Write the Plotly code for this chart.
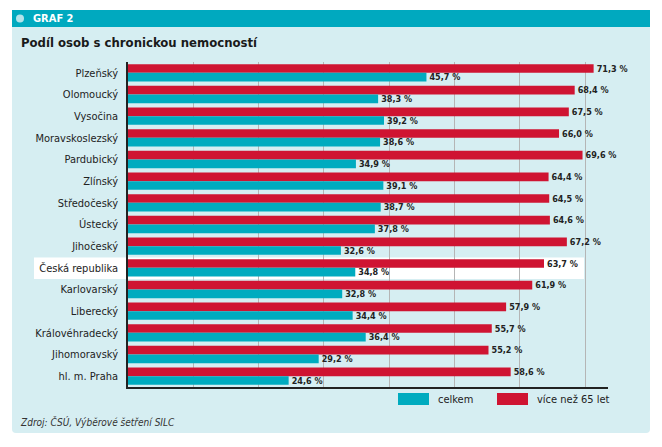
import plotly.graph_objects as go

categories = ["Plzeňský", "Olomoucký", "Vysočina", "Moravskoslezský", "Pardubický",
              "Zlínský", "Středočeský", "Ústecký", "Jihočeský", "Česká republika",
              "Karlovarský", "Liberecký", "Královéhradecký", "Jihomoravský", "hl. m. Praha"]
over65 = [71.3, 68.4, 67.5, 66.0, 69.6, 64.4, 64.5, 64.6, 67.2, 63.7, 61.9, 57.9, 55.7, 55.2, 58.6]
total = [45.7, 38.3, 39.2, 38.6, 34.9, 39.1, 38.7, 37.8, 32.6, 34.8, 32.8, 34.4, 36.4, 29.2, 24.6]
series_names = ["celkem", "více než 65 let"]
grid_vals = [10, 20, 30, 40, 50, 60, 70]

RED = "#cf1432"
TEAL = "#00abbf"
PANEL = "#d6eef2"
FONT = "DejaVu Sans Condensed"

W, H = 662, 447
OFF = 8  # page body margin offset
ML = 128 - OFF
MT = 62 - OFF
MR = W - (608 - OFF)
MB = H - (387 - OFF)
PW = W - ML - MR
PH = H - MT - MB


def xp(px):
    return (px - OFF - ML) / PW


def yp(py):
    return (H - MB - (py - OFF)) / PH


def fmt(v):
    return f"{v:.1f} %".replace(".", ",")


def rounded_panel(x0, y0, x1, y1, r):
    pts = [
        f"M {xp(x0)},{yp(y0)}",
        f"L {xp(x1)},{yp(y0)}",
        f"L {xp(x1)},{yp(y1 - r)}",
        f"Q {xp(x1)},{yp(y1)} {xp(x1 - r)},{yp(y1)}",
        f"L {xp(x0 + r)},{yp(y1)}",
        f"Q {xp(x0)},{yp(y1)} {xp(x0)},{yp(y1 - r)}",
        "Z",
    ]
    return " ".join(pts)


fig = go.Figure()
fig.add_trace(go.Bar(
    y=categories, x=over65, orientation="h", name=series_names[1],
    marker=dict(color=RED, line=dict(width=0)),
    text=[fmt(v) for v in over65], textposition="outside", constraintext="none",
    textfont=dict(family=FONT, size=9, color="#222222", weight="bold"),
    cliponaxis=False, showlegend=False, hoverinfo="x+y",
))
fig.add_trace(go.Bar(
    y=categories, x=total, orientation="h", name=series_names[0],
    marker=dict(color=TEAL, line=dict(width=0)),
    text=[fmt(v) for v in total], textposition="outside", constraintext="none",
    textfont=dict(family=FONT, size=9, color="#222222", weight="bold"),
    cliponaxis=False, showlegend=False, hoverinfo="x+y",
))

shapes = [
    dict(type="path", xref="paper", yref="paper", path=rounded_panel(12, 10, 650, 433, 4),
         fillcolor=PANEL, line=dict(width=0), layer="below"),
    dict(type="rect", xref="paper", yref="paper", x0=xp(12), x1=xp(650), y0=yp(27), y1=yp(10),
         fillcolor="#00a9bf", line=dict(width=0), layer="below"),
    dict(type="circle", xref="paper", yref="paper", x0=xp(16), x1=xp(24), y0=yp(22.5), y1=yp(14.5),
         fillcolor="#b3e3ea", line=dict(width=0), layer="above"),
    dict(type="rect", xref="paper", yref="paper", x0=xp(34), x1=xp(584), y0=yp(279), y1=yp(257.5),
         fillcolor="white", line=dict(width=0), layer="below"),
    dict(type="rect", xref="paper", yref="paper", x0=xp(398), x1=xp(429), y0=yp(405), y1=yp(393),
         fillcolor=TEAL, line=dict(width=0)),
    dict(type="rect", xref="paper", yref="paper", x0=xp(497), x1=xp(528), y0=yp(405), y1=yp(393),
         fillcolor=RED, line=dict(width=0)),
]

annotations = [
    dict(text="<b>GRAF 2</b>", xref="paper", yref="paper", x=xp(31), y=yp(18.5),
         xanchor="left", yanchor="middle", showarrow=False,
         font=dict(family=FONT, size=11, color="white")),
    dict(text="<b>Podíl osob s chronickou nemocností</b>", xref="paper", yref="paper", x=xp(19), y=yp(43),
         xanchor="left", yanchor="middle", showarrow=False,
         font=dict(family=FONT, size=13, color="#1a1a1a")),
    dict(text=series_names[0], xref="paper", yref="paper", x=xp(436), y=yp(399),
         xanchor="left", yanchor="middle", showarrow=False,
         font=dict(family=FONT, size=11, color="#222222")),
    dict(text=series_names[1], xref="paper", yref="paper", x=xp(535), y=yp(399),
         xanchor="left", yanchor="middle", showarrow=False,
         font=dict(family=FONT, size=11, color="#222222")),
    dict(text="<i>Zdroj: ČSÚ, Výběrové šetření SILC</i>", xref="paper", yref="paper", x=xp(18), y=yp(422),
         xanchor="left", yanchor="middle", showarrow=False,
         font=dict(family=FONT, size=10, color="#333333")),
]

fig.update_layout(
    width=W, height=H,
    margin=dict(l=ML, r=MR, t=MT, b=MB, pad=0),
    paper_bgcolor="white", plot_bgcolor="rgba(0,0,0,0)",
    barmode="group", bargap=0.2, bargroupgap=0,
    showlegend=False,
    font=dict(family=FONT, size=11, color="#222222"),
    shapes=shapes, annotations=annotations,
    xaxis=dict(range=[0, 73.5], tickvals=grid_vals, showticklabels=False,
               showgrid=True, gridcolor="#b5b5b5", gridwidth=1, zeroline=False,
               showline=True, linecolor="#222222", linewidth=1.5, fixedrange=True),
    yaxis=dict(categoryorder="array", categoryarray=categories, autorange="reversed",
               showgrid=False, zeroline=False, showline=True, linecolor="#222222", linewidth=1.5,
               ticks="outside", ticklen=6, tickcolor="rgba(0,0,0,0)",
               tickfont=dict(family=FONT, size=11, color="#222222"), fixedrange=True),
)

fig.write_html("out.html")
